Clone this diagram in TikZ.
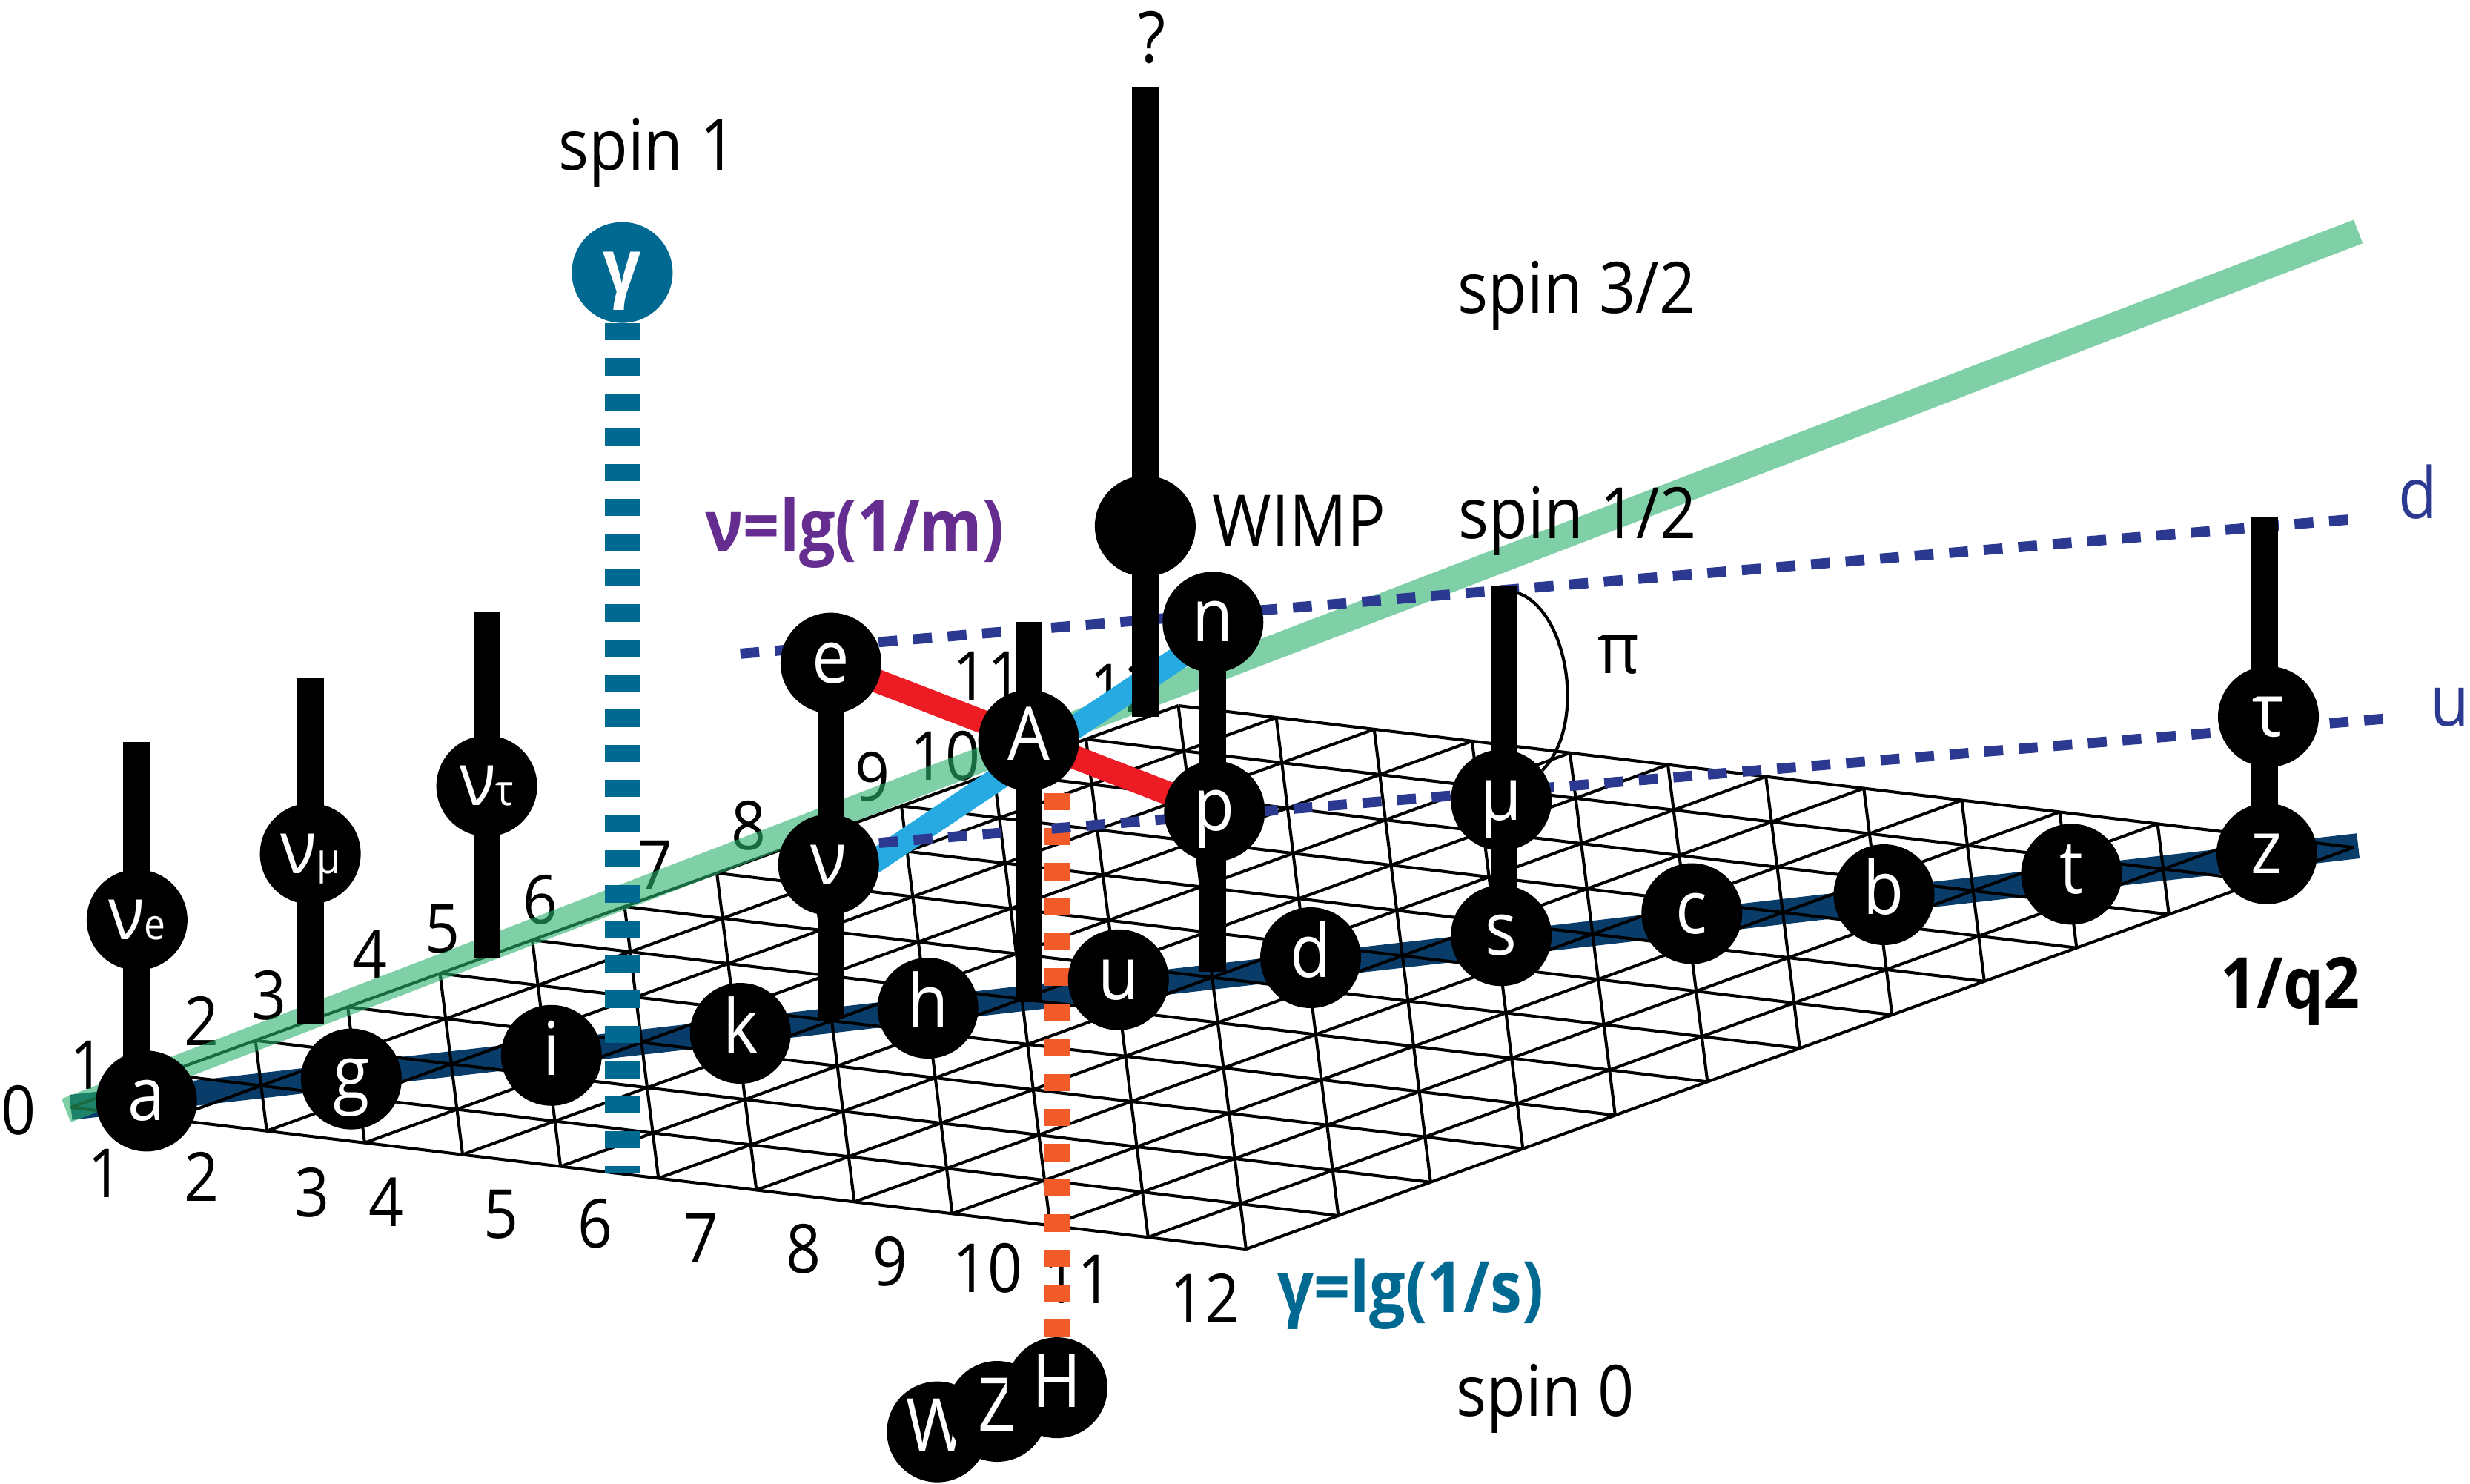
\documentclass[tikz,border=0pt]{standalone}
\usepackage{fontspec}
\setmainfont{Open Sans}[FakeStretch=0.9]
\usetikzlibrary{calc}
\pgfdeclarelayer{bg}
\pgfdeclarelayer{mid}
\pgfsetlayers{bg,mid,main}
\definecolor{mintc}{RGB}{43,178,107}
\definecolor{bandc}{RGB}{10,60,105}
\definecolor{dashc}{RGB}{43,57,144}
\definecolor{tealc}{RGB}{0,105,146}
\definecolor{orangec}{RGB}{241,90,41}
\definecolor{redc}{RGB}{237,28,36}
\definecolor{bluec}{RGB}{39,170,225}
\definecolor{purplec}{RGB}{102,45,145}
\newcommand\balltxt{\fontsize{47}{50}\selectfont}
\newcommand\labeltxt{\fontsize{45}{48}\selectfont}
\newcommand\numtxt{\fontsize{43}{46}\selectfont}
\newcommand\smalltxt{\fontsize{27}{29}\selectfont}
\begin{document}
\begin{tikzpicture}[x=1pt,y=-1pt,
  ball/.style={circle, fill=black, text=white, minimum size=64pt, inner sep=0pt,
               font=\balltxt, text height=25pt, text depth=0pt},
  lbl/.style={font=\labeltxt, inner sep=0pt, anchor=base},
  num/.style={font=\numtxt, inner sep=0pt},
  gridln/.style={line width=1.9pt, black},
  bar/.style={line width=17pt, black},
  greenln/.style={line width=16pt, mintc, draw opacity=0.6},
  bandln/.style={line width=16pt, bandc},
  redln/.style={line width=15pt, redc},
  blueln/.style={line width=15pt, bluec},
  dashln/.style={line width=6.5pt, dashc, dash pattern=on 12pt off 10pt},
  tealdash/.style={line width=22pt, tealc, dash pattern=on 11pt off 11.3pt},
  orangedash/.style={line width=17pt, orangec, dash pattern=on 11pt off 11.3pt},
  arcln/.style={line width=2pt, black}
]
\useasboundingbox (0,0) rectangle (1568,942);

% ---------- coordinates ----------
\coordinate (gL) at (45,703);
\coordinate (gR) at (1497,537);
\coordinate (grA) at (42,705);
\coordinate (grB) at (1497,147);
\coordinate (gambot) at (395,745);
\coordinate (otop) at (669,500);
\coordinate (bstart) at (540,557);
\coordinate (dl) at (470,415);
\coordinate (dr) at (1496.6,329.4);
\coordinate (ul) at (558,535.1);
\coordinate (ur) at (1522,455.6);
\coordinate (nuetop) at (86.5,471);
\coordinate (numtop) at (197,430);
\coordinate (numbot) at (197,650);
\coordinate (nuttop) at (309,388);
\coordinate (nutbot) at (309,608);
\coordinate (ebot) at (527,647);
\coordinate (Atop) at (653,395);
\coordinate (Abot) at (653,636);
\coordinate (pbot) at (769,617);
\coordinate (wimptop) at (727,55);
\coordinate (wimpbot) at (727,455);
\coordinate (mutop) at (955,372);
\coordinate (tautop) at (1437.5,328.6);
\coordinate (arcstart) at (962,376);

% ---------- nodes ----------
\node[ball] (a) at (93,699) {a};
\node[ball] (g) at (223,685) {g};
\node[ball] (i) at (350,670) {i};
\node[ball] (k) at (470,656) {k};
\node[ball] (h) at (589,640) {h};
\node[ball] (u) at (710,622) {u};
\node[ball] (d) at (832,608) {d};
\node[ball] (s) at (953,594) {s};
\node[ball] (c) at (1074,580) {c};
\node[ball] (b) at (1196,568) {b};
\node[ball] (t) at (1315,555) {t};
\node[ball] (z) at (1439,542) {z};
\node[ball] (nue) at (87,584) {ν{\smalltxt e}};
\node[ball] (num) at (197,542) {ν{\smalltxt μ}};
\node[ball] (nut) at (309,499) {ν{\smalltxt τ}};
\node[ball] (e) at (527.5,421) {e};
\node[ball] (nu) at (526,549) {ν};
\node[ball] (A) at (653,470) {A};
\node[ball] (p) at (771,515) {p};
\node[ball] (n) at (770,395) {n};
\node[ball] (mu) at (953,508) {μ};
\node[ball] (tau) at (1440,455) {τ};
\node[ball] (wimp) at (727,334) {};
\node[ball, fill=tealc, font=\balltxt\bfseries] (gam) at (395,173) {γ};
\node[ball] (W) at (595,909) {W};
\node[ball] (Z) at (633,896) {Z};
\node[ball] (H) at (671,881) {H};

% ---------- labels ----------
\node[lbl] (spinone) at (411,108.2) {spin 1};
\node[lbl] (spinthree) at (1001,198.6) {spin 3/2};
\node[lbl] (spinhalf) at (1001.5,342) {spin 1/2};
\node[lbl] (spinzero) at (981,899) {spin 0};
\node[lbl] (wimplbl) at (824.7,346.5) {WIMP};
\node[lbl] (qmark) at (731.5,40) {?};
\node[lbl, font=\labeltxt\bfseries, text=purplec] (nuaxis) at (542.6,350) {ν=lg(1/m)};
\node[lbl, font=\labeltxt\bfseries, text=tealc] (gamaxis) at (895.5,833.4) {γ=lg(1/s)};
\node[lbl, font=\labeltxt\bfseries] (qlbl) at (1454,640) {1/q2};
\node[lbl, text=dashc] (dlbl) at (1535,329.4) {d};
\node[lbl, text=dashc] (ulbl) at (1555,461) {u};
\node[lbl] (pilbl) at (1027.7,427.6) {π};
\draw[arcln] (arcstart) .. controls (995,385) and (1008,460) .. (mu.36);

% ---------- background: band, grid, axis numbers ----------
\begin{pgfonlayer}{bg}
  \fill[white] (0,0) rectangle (1568,942);
  \draw[bandln] (gL) -- (gR);
  \foreach \j in {0,...,12}{
    \draw[gridln] ({45+\j*58.583},{703-\j*21.25}) -- ++(746,90);
    \draw[gridln] ({45+\j*62.167},{703+\j*7.5}) -- ++(703,-255);
  }
  \foreach \k in {1,...,23}{
    \pgfmathsetmacro\ka{min(\k,12)}
    \pgfmathsetmacro\kb{\k-\ka}
    \draw[gridln] ({45+\ka*62.167+\kb*58.583},{703+\ka*7.5-\kb*21.25})
               -- ({45+\kb*62.167+\ka*58.583},{703+\kb*7.5-\ka*21.25});
  }
  \foreach \tx/\x/\y [count=\c] in {0/12/705, 1/55.5/676, 2/128/648, 3/171/632,
      4/235/606, 5/281/590, 6/343/571, 7/416/549, 8/475.5/524, 9/554/493,
      10/600/480, 11/627/429, 12/714/437}
    \node[num] (lnum\c) at (\x,\y) {\tx};
  \foreach \tx/\x/\y [count=\c] in {1/67/745, 2/128/747, 3/198/757, 4/245/763,
      5/318/771, 6/378/777, 7/445/786, 8/510/793, 9/565/801, 10/627/805,
      11/684/812, 12/765/824}
    \node[num] (bnum\c) at (\x,\y) {\tx};
\end{pgfonlayer}

% ---------- middle: coloured lines and bars ----------
\begin{pgfonlayer}{mid}
  \draw[greenln] (grA) -- (grB);
  \draw[tealdash] (gam.south) -- (gambot);
  \draw[orangedash] (H.north) -- (H.north |- otop);
  \draw[redln] (e.center) -- (p.center);
  \draw[blueln] (bstart) -- ($(n.center)+(0,8)$);
  \draw[dashln] (dl) -- (dr);
  \draw[dashln] (ul) -- (ur);
  \draw[bar] (nuetop) -- (nuetop |- a.center);
  \draw[bar] (numtop) -- (numbot);
  \draw[bar] (nuttop) -- (nutbot);
  \draw[bar] (e.center) -- (e.center |- ebot);
  \draw[bar] (Atop) -- (Abot);
  \draw[bar] (n.center) -- (n.center |- pbot);
  \draw[bar] (wimptop) -- (wimpbot);
  \draw[bar] (mutop) -- (mutop |- s.center);
  \draw[bar] (tautop) -- (tautop |- z.center);
\end{pgfonlayer}
\end{tikzpicture}
\end{document}
